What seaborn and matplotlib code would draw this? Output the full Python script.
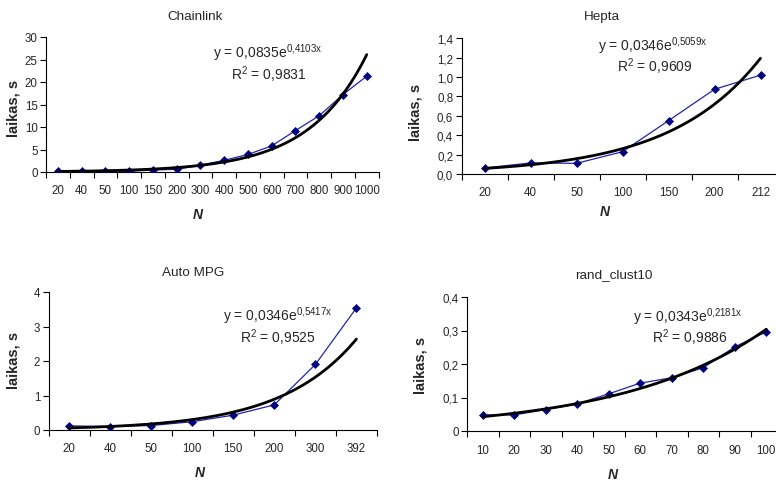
import numpy as np
import matplotlib
matplotlib.use("Agg")
import matplotlib.pyplot as plt
import seaborn as sns
from matplotlib.ticker import FixedLocator, FuncFormatter

sns.set_style("white")
plt.rcParams["font.family"] = ["Liberation Sans", "DejaVu Sans"]
plt.rcParams["mathtext.fontset"] = "custom"
plt.rcParams["mathtext.rm"] = "Liberation Sans"
plt.rcParams["mathtext.it"] = "Liberation Sans:italic"
plt.rcParams["mathtext.bf"] = "Liberation Sans:bold"

# ---------------- data ----------------
chain_n = ["20", "40", "50", "100", "150", "200", "300", "400", "500", "600", "700", "800", "900", "1000"]
chain_t = [0.2, 0.2, 0.2, 0.15, 0.45, 0.6, 1.5, 2.6, 3.9, 5.8, 9.2, 12.5, 17.2, 21.3]
chain_a, chain_b, chain_r2 = 0.0835, 0.4103, 0.9831

hepta_n = ["20", "40", "50", "100", "150", "200", "212"]
hepta_t = [0.062, 0.114, 0.11, 0.23, 0.55, 0.874, 1.02]
hepta_a, hepta_b, hepta_r2 = 0.0346, 0.5059, 0.9609

auto_n = ["20", "40", "50", "100", "150", "200", "300", "392"]
auto_t = [0.12, 0.1, 0.13, 0.24, 0.43, 0.73, 1.9, 3.54]
auto_a, auto_b, auto_r2 = 0.0346, 0.5417, 0.9525

rand_n = ["10", "20", "30", "40", "50", "60", "70", "80", "90", "100"]
rand_t = [0.048, 0.048, 0.064, 0.081, 0.111, 0.143, 0.159, 0.189, 0.251, 0.296]
rand_a, rand_b, rand_r2 = 0.0343, 0.2181, 0.9886

titles = ["Chainlink", "Hepta", "Auto MPG", "rand_clust10"]
ylabel = "laikas, s"
xlabel = "N"

W, H = 776, 481
fig = plt.figure(figsize=(W / 100, H / 100), dpi=100)


def comma(v, d):
    return f"{v:.{d}f}".replace(".", ",")


def fmt_int(v, pos):
    return f"{v:.0f}"


def fmt_1(v, pos):
    return comma(v, 1)


def fmt_rand(v, pos):
    return "0" if abs(v) < 1e-9 else comma(v, 1)


panels = [
    dict(n=chain_n, t=chain_t, a=chain_a, b=chain_b, r2=chain_r2, title=titles[0],
         rect=(46, 378.6, 38, 173), ymax=30, ystep=5, fmt=fmt_int,
         title_xy=(195, 17), eq_xy=(213, 58), r2_xy=(231, 80), yl_xy=(13, 108), n_xy=(198, 215)),
    dict(n=hepta_n, t=hepta_t, a=hepta_a, b=hepta_b, r2=hepta_r2, title=titles[1],
         rect=(461.5, 783.5, 39.3, 175), ymax=1.4, ystep=0.2, fmt=fmt_1,
         title_xy=(602, 17), eq_xy=(598, 51), r2_xy=(617, 72), yl_xy=(415, 112), n_xy=(605, 212)),
    dict(n=auto_n, t=auto_t, a=auto_a, b=auto_b, r2=auto_r2, title=titles[2],
         rect=(48.5, 377, 293, 431), ymax=4, ystep=1, fmt=fmt_int,
         title_xy=(193, 273), eq_xy=(223, 321), r2_xy=(240, 343), yl_xy=(13, 360), n_xy=(200, 473)),
    dict(n=rand_n, t=rand_t, a=rand_a, b=rand_b, r2=rand_r2, title=titles[3],
         rect=(467, 782, 298, 432), ymax=0.4, ystep=0.1, fmt=fmt_rand,
         title_xy=(614, 275), eq_xy=(633, 322), r2_xy=(652, 343), yl_xy=(421, 365), n_xy=(613, 475)),
]


def fx(x):
    return x / W


def fy(y):
    return 1 - y / H


for p in panels:
    l, r, t, b = p["rect"]
    ax = fig.add_axes([fx(l), fy(b), (r - l) / W, (b - t) / H])
    k = len(p["n"])
    pos = np.arange(1, k + 1)
    sns.lineplot(x=pos, y=p["t"], ax=ax, color="#2323B0", lw=0.9, marker="D",
                 markersize=4.3, markerfacecolor="#000080", markeredgecolor="#000080",
                 markeredgewidth=0.5, zorder=3)
    xs = np.linspace(1, k, 200)
    sns.lineplot(x=xs, y=p["a"] * np.exp(p["b"] * xs), ax=ax, color="black", lw=2.0, zorder=4)

    ax.set_xlim(0.5, k + 0.5)
    ax.set_ylim(0, p["ymax"])
    ax.xaxis.set_major_locator(FixedLocator(pos))
    ax.set_xticklabels(p["n"])
    ax.xaxis.set_minor_locator(FixedLocator(np.arange(0.5, k + 1.0, 1.0)))
    ax.tick_params(axis="x", which="major", length=0, pad=9, labelsize=8.3)
    ax.tick_params(axis="x", which="minor", length=4, width=0.8, direction="out",
                   color="black", bottom=True)
    yt = np.arange(0, p["ymax"] + p["ystep"] / 2, p["ystep"])
    ax.yaxis.set_major_locator(FixedLocator(yt))
    ax.yaxis.set_major_formatter(FuncFormatter(p["fmt"]))
    ax.tick_params(axis="y", which="major", length=4, width=0.8, direction="out",
                   color="black", left=True, pad=2, labelsize=8.3)
    sns.despine(ax=ax)
    for s in ("left", "bottom"):
        ax.spines[s].set_color("black")
        ax.spines[s].set_linewidth(0.8)
    ax.set_xlabel("")
    ax.set_ylabel("")
    ax.patch.set_visible(False)

    fig.text(fx(p["title_xy"][0]), fy(p["title_xy"][1]), p["title"], ha="center", va="center", fontsize=9.7)
    fig.text(fx(p["yl_xy"][0]), fy(p["yl_xy"][1]), ylabel, ha="center", va="center",
             rotation=90, fontsize=10.5, fontweight="bold")
    fig.text(fx(p["n_xy"][0]), fy(p["n_xy"][1]), xlabel, ha="center", va="center",
             fontsize=10, fontweight="bold", fontstyle="italic")
    a_s = comma(p["a"], 4)
    b_s = comma(p["b"], 4).replace(",", "{,}")
    eq = "y = " + a_s + "e$^{\\mathrm{" + b_s + "x}}$"
    fig.text(fx(p["eq_xy"][0]), fy(p["eq_xy"][1]), eq, ha="left", va="baseline", fontsize=10)
    fig.text(fx(p["r2_xy"][0]), fy(p["r2_xy"][1]), "R$^{\\mathrm{2}}$ = " + comma(p["r2"], 4),
             ha="left", va="baseline", fontsize=10)

fig.savefig("out.png", dpi=100)
